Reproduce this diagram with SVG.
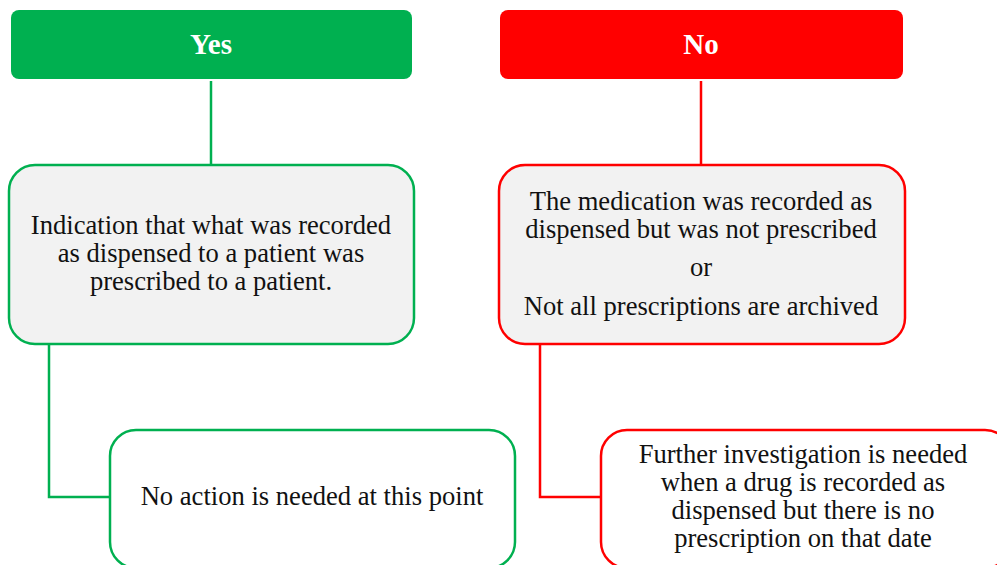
<svg xmlns="http://www.w3.org/2000/svg" width="997" height="565" viewBox="0 0 997 565">
  <style>
    .t { font-size: 26.6px; fill: #111; text-anchor: middle; }
    .h { font-size: 29px; font-weight: bold; fill: #fff; text-anchor: middle; }
    .g { stroke: #00B050; }
    .r { stroke: #FF0000; }
    .box { stroke-width: 2.5; }
    .link { fill: none; stroke-width: 2.5; }
  </style>
  <rect width="997" height="565" fill="#fff"/>

  <!-- connectors -->
  <g id="connectors">
    <line class="link g" x1="211" y1="81" x2="211" y2="165"/>
    <polyline class="link g" points="49,344 49,497 110,497"/>
    <line class="link r" x1="701" y1="81" x2="701" y2="165"/>
    <polyline class="link r" points="540,344 540,497 602,497"/>
  </g>

  <g font-family="'Liberation Serif', 'Times New Roman', 'DejaVu Serif', serif">
  <g id="yes">
    <rect x="11" y="10" width="401" height="69" rx="8" fill="#00B050"/>
    <text class="h" x="211" y="54">Yes</text>
  </g>

  <g id="no">
    <rect x="500" y="10" width="403" height="69" rx="8" fill="#FF0000"/>
    <text class="h" x="701" y="54">No</text>
  </g>

  <g id="yes-detail">
    <rect class="box g" x="9" y="165" width="405" height="179" rx="26" fill="#F2F2F2"/>
    <text class="t" x="211" y="234">Indication that what was recorded</text>
    <text class="t" x="211" y="262">as dispensed to a patient was</text>
    <text class="t" x="211" y="290">prescribed to a patient.</text>
  </g>

  <g id="no-detail">
    <rect class="box r" x="499" y="165" width="406" height="179" rx="26" fill="#F2F2F2"/>
    <text class="t" x="701" y="210">The medication was recorded as</text>
    <text class="t" x="701" y="238">dispensed but was not prescribed</text>
    <text class="t" x="701" y="276">or</text>
    <text class="t" x="701" y="315">Not all prescriptions are archived</text>
  </g>

  <g id="yes-action">
    <rect class="box g" x="110" y="430" width="405" height="138" rx="26" fill="#fff"/>
    <text class="t" x="312" y="505">No action is needed at this point</text>
  </g>

  <g id="no-action">
    <rect class="box r" x="601" y="430" width="410" height="138" rx="26" fill="#fff"/>
    <text class="t" x="803" y="463">Further investigation is needed</text>
    <text class="t" x="803" y="491">when a drug is recorded as</text>
    <text class="t" x="803" y="519">dispensed but there is no</text>
    <text class="t" x="803" y="547">prescription on that date</text>
  </g>
  </g>
</svg>
